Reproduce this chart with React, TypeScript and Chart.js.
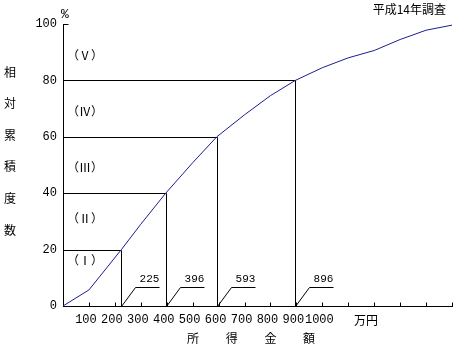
import React, { useEffect, useRef } from "react";
import { Chart, registerables } from "chart.js";

Chart.register(...registerables);

// Income (万円) and cumulative relative frequency (%)
const incomeValues = [0, 100, 225, 300, 396, 500, 593, 700, 800, 896, 1000, 1100, 1200, 1300, 1400, 1500];
const cumulativePct = [0, 5.7, 20, 29, 40, 50.8, 60, 67.8, 74.6, 80, 84.5, 88, 90.6, 94.5, 97.8, 99.6];

// Quintile boundaries
const quintileIncome = [225, 396, 593, 896];
const quintileLevel = [20, 40, 60, 80];
const quintileLabels = ["225", "396", "593", "896"];

// Quintile group labels and their vertical position (%)
const groupLabels = ["（Ⅰ）", "（Ⅱ）", "（Ⅲ）", "（Ⅳ）", "（Ⅴ）"];
const groupLabelPos = [16, 31, 49.3, 69, 89];

const xTickValues = [100, 200, 300, 400, 500, 600, 700, 800, 900, 1000, 1100, 1200, 1300, 1400, 1500];
const yTitleChars = ["相", "対", "累", "積", "度", "数"];
const xTitleChars = ["所", "得", "金", "額"];
const surveyNote = "平成14年調査";
const unitLabel = "万円";

const MONO = "'Liberation Mono', 'DejaVu Sans Mono', monospace";
const NARROW = "'Liberation Sans Narrow', 'Liberation Mono', monospace";
const CJK = "'Noto Sans CJK JP', 'Noto Sans', sans-serif";

const crisp = (v: number) => Math.round(v) + 0.5;

const overlayPlugin = {
  id: "overlay",
  beforeDatasetsDraw(chart: any) {
    const ctx = chart.ctx as CanvasRenderingContext2D;
    const xs = chart.scales.x;
    const ys = chart.scales.y;
    ctx.save();
    ctx.strokeStyle = "#000";
    ctx.lineWidth = 1;
    quintileIncome.forEach((q, i) => {
      const x0 = crisp(xs.getPixelForValue(0));
      const px = crisp(xs.getPixelForValue(q));
      const py = crisp(ys.getPixelForValue(quintileLevel[i]));
      const pb = crisp(ys.getPixelForValue(0));
      ctx.beginPath();
      ctx.moveTo(x0, py);
      ctx.lineTo(px, py);
      ctx.lineTo(px, pb);
      ctx.stroke();
    });
    ctx.restore();
  },
  afterDraw(chart: any) {
    const ctx = chart.ctx as CanvasRenderingContext2D;
    const xs = chart.scales.x;
    const ys = chart.scales.y;
    const area = chart.chartArea;
    ctx.save();
    ctx.strokeStyle = "#000";
    ctx.fillStyle = "#000";
    ctx.lineWidth = 1;

    // inward x ticks
    const by = crisp(area.bottom);
    xTickValues.forEach((v) => {
      const px = crisp(xs.getPixelForValue(v));
      ctx.beginPath();
      ctx.moveTo(px, by);
      ctx.lineTo(px, by - 4);
      ctx.stroke();
    });
    // top tick on y axis
    const lx = crisp(area.left);
    const ty = crisp(ys.getPixelForValue(100));
    ctx.beginPath();
    ctx.moveTo(lx, ty);
    ctx.lineTo(lx + 5, ty);
    ctx.stroke();

    // callouts
    ctx.font = `11px ${MONO}`;
    ctx.textAlign = "center";
    ctx.textBaseline = "middle";
    quintileIncome.forEach((q, i) => {
      const px = crisp(xs.getPixelForValue(q));
      const py = crisp(ys.getPixelForValue(0));
      ctx.beginPath();
      ctx.moveTo(px, py);
      ctx.lineTo(px + 14, py - 19);
      ctx.lineTo(px + 38, py - 19);
      ctx.stroke();
      ctx.fillText(quintileLabels[i], px + 28, py - 27);
    });

    // group labels
    ctx.font = `12px ${CJK}`;
    ctx.textAlign = "center";
    groupLabels.forEach((t, i) => {
      ctx.fillText(t, area.left + 22, ys.getPixelForValue(groupLabelPos[i]));
    });

    // percent sign
    ctx.font = `13px ${MONO}`;
    ctx.fillText("%", area.left + 2, area.top - 9);

    // survey note
    ctx.font = `12px ${CJK}`;
    ctx.textAlign = "right";
    ctx.fillText(surveyNote, 446, 9);

    // unit
    ctx.textAlign = "center";
    ctx.fillText(unitLabel, 366, 320);

    // y title
    yTitleChars.forEach((c, i) => {
      ctx.fillText(c, 10, 72 + i * 31.6);
    });
    // x title
    xTitleChars.forEach((c, i) => {
      ctx.fillText(c, 193 + i * 38.7, 338);
    });
    ctx.restore();
  },
};

export default function App() {
  const ref = useRef<HTMLCanvasElement | null>(null);
  useEffect(() => {
    if (!ref.current) return;
    const chart = new Chart(ref.current, {
      type: "line",
      data: {
        datasets: [
          {
            data: incomeValues.map((v, i) => ({ x: v, y: cumulativePct[i] })),
            borderColor: "#1c1c96",
            borderWidth: 1,
            pointRadius: 0,
            tension: 0,
          },
        ],
      },
      options: {
        animation: false,
        responsive: false,
        maintainAspectRatio: false,
        layout: { padding: { left: 0, right: 5, top: 24, bottom: 0 } },
        plugins: { legend: { display: false }, tooltip: { enabled: false } },
        scales: {
          x: {
            type: "linear",
            min: 0,
            max: 1500,
            grid: { display: false, drawTicks: false },
            border: { display: true, color: "#000", width: 1 },
            afterFit: (s: any) => {
              s.height = 43;
            },
            afterBuildTicks: (s: any) => {
              s.ticks = xTickValues.map((v) => ({ value: v }));
            },
            ticks: {
              autoSkip: false,
              maxRotation: 0,
              padding: 7,
              labelOffset: -3,
              color: "#000",
              font: { family: NARROW, size: 12 },
              callback: (v: any) => (v <= 1000 ? String(v) : ""),
            },
          },
          y: {
            type: "linear",
            min: 0,
            max: 100,
            grid: { display: false, drawTicks: false },
            border: { display: true, color: "#000", width: 1 },
            afterFit: (s: any) => {
              s.width = 63;
            },
            ticks: {
              stepSize: 20,
              padding: 6,
              color: "#000",
              font: { family: MONO, size: 12 },
            },
          },
        },
      },
      plugins: [overlayPlugin],
    });
    return () => chart.destroy();
  }, []);
  return (
    <div style={{ position: "fixed", left: 0, top: 0, width: 459, height: 349, background: "#fff" }}>
      <canvas ref={ref} width={459} height={349} style={{ width: 459, height: 349 }} />
    </div>
  );
}
